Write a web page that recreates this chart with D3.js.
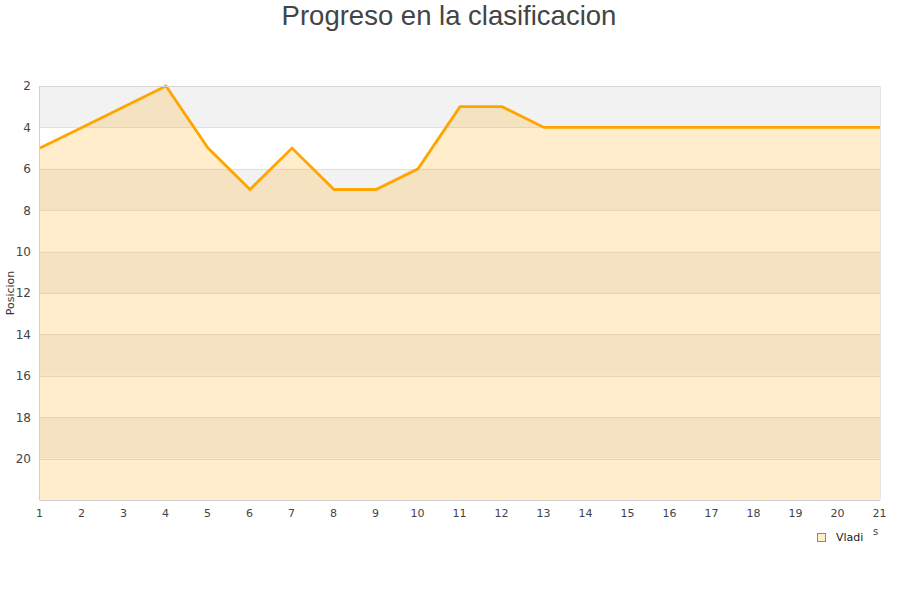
<!DOCTYPE html>
<html><head><meta charset="utf-8">
<script src="https://cdn.jsdelivr.net/npm/d3@7/dist/d3.min.js"></script>
<style>body{margin:0;background:#fff}svg{display:block}</style>
</head><body><svg id="c" width="900" height="600"></svg>
<script>
const jornadas = [1,2,3,4,5,6,7,8,9,10,11,12,13,14,15,16,17,18,19,20,21];
const posiciones = [5,4,3,2,5,7,5,7,7,6,3,3,4,4,4,4,4,4,4,4,4];
const yTicks = [2,4,6,8,10,12,14,16,18,20];
const seriesName = "Vladi";
const title = "Progreso en la clasificacion";
const yTitle = "Posicion";

const svg = d3.select("#c");
const L=40,R=880,T=86,B=500;
const x = d3.scaleLinear().domain([1,21]).range([L,R]);
const y = d3.scaleLinear().domain([2,22]).range([T,B]);

const bands = d3.range(2,22,2);
svg.selectAll("rect.band").data(bands).enter().append("rect")
  .attr("x",L).attr("width",R-L)
  .attr("y",d=>y(d)).attr("height",d=>y(d+2)-y(d))
  .attr("fill",(d,i)=>i%2===0?"#f2f2f2":"#ffffff");
svg.selectAll("line.g").data(yTicks).enter().append("line")
  .attr("x1",L).attr("x2",R).attr("y1",d=>Math.round(y(d))+0.5).attr("y2",d=>Math.round(y(d))+0.5)
  .attr("stroke","#e0e0e0");
const data = jornadas.map((j,i)=>({j,p:posiciones[i]}));
svg.append("path").datum(data)
  .attr("d",d3.area().x(d=>x(d.j)).y0(B).y1(d=>y(d.p)))
  .attr("fill","#ffa500").attr("fill-opacity",0.2);
svg.append("path").datum(data)
  .attr("d",d3.line().x(d=>x(d.j)).y(d=>y(d.p)))
  .attr("fill","none").attr("stroke","#ffa500").attr("stroke-width",2.8);
svg.append("line").attr("x1",L-0.5).attr("x2",L-0.5).attr("y1",T).attr("y2",B+0.5).attr("stroke","#d0d0d0");
svg.append("line").attr("x1",L).attr("x2",R).attr("y1",B+0.5).attr("y2",B+0.5).attr("stroke","#d0d0d0");
svg.append("line").attr("x1",L).attr("x2",R).attr("y1",T+0.5).attr("y2",T+0.5).attr("stroke","#d6d6d6");
svg.append("line").attr("x1",R+0.5).attr("x2",R+0.5).attr("y1",T).attr("y2",B).attr("stroke","#e6e6e6");

const ax = svg.append("g").attr("transform",`translate(-1,${B})`)
  .call(d3.axisBottom(x).tickValues(jornadas).tickFormat(d3.format("d")).tickSize(0).tickPadding(9));
ax.select(".domain").remove();
ax.selectAll("text").attr("font-family","DejaVu Sans").attr("font-size",11).attr("fill","#444");
const ay = svg.append("g").attr("transform",`translate(${L},0)`)
  .call(d3.axisLeft(y).tickValues(yTicks).tickSize(0).tickPadding(9));
ay.select(".domain").remove();
ay.selectAll("text").attr("font-family","DejaVu Sans").attr("font-size",12).attr("fill","#444");

svg.append("text").attr("x",449).attr("y",25).attr("text-anchor","middle")
  .attr("font-family","Liberation Sans, Arial").attr("font-size",27.5).attr("fill","#444").text(title);
svg.append("text").attr("transform","translate(14,293) rotate(-90)").attr("text-anchor","middle")
  .attr("font-family","DejaVu Sans").attr("font-size",11).attr("fill","#333").text(yTitle);

svg.append("rect").attr("x",817.5).attr("y",533.5).attr("width",8).attr("height",8)
  .attr("fill","#ffedcc").attr("stroke","#888");
svg.append("text").attr("x",836).attr("y",541).attr("font-family","DejaVu Sans").attr("font-size",11)
  .attr("fill","#222").text(seriesName);
svg.append("text").attr("x",873).attr("y",535).attr("font-family","DejaVu Sans").attr("font-size",10)
  .attr("fill","#444").text("s");
</script></body></html>
